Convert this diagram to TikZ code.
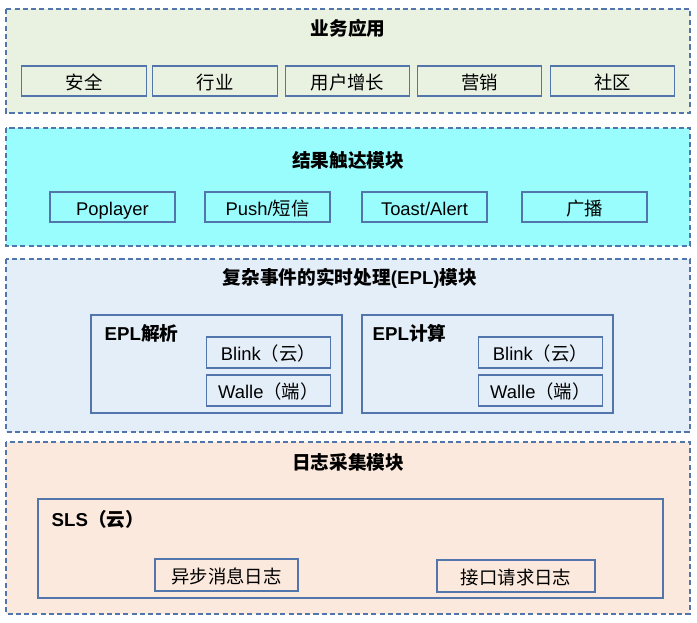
\documentclass[tikz,border=0pt]{standalone}
\usepackage{fontspec}
\setmainfont{Liberation Sans}
\newfontfamily\cjk{Noto Sans CJK SC}
\newcommand{\zh}[1]{{\cjk #1}}

\definecolor{edgeblue}{HTML}{5276AC}
\definecolor{appgreen}{HTML}{E9F1E1}
\definecolor{reachcyan}{HTML}{99FDFE}
\definecolor{eplblue}{HTML}{E4EEF8}
\definecolor{logpeach}{HTML}{FCE9DD}

\begin{document}
\begin{tikzpicture}[x=0.75pt, y=-0.75pt,
  layer/.style={draw=edgeblue, dash pattern=on 3.8pt off 2.4pt, line width=0.9pt},
  box/.style={draw=edgeblue, line width=0.9pt, minimum height=22.5pt, inner sep=0pt,
    text height=13pt, text depth=1pt, font=\fontsize{13.8}{16}\selectfont},
  title/.style={font=\fontsize{14}{16}\selectfont\bfseries}]
  \useasboundingbox (0,0) rectangle (697,622);

  % Layers
  \draw[layer, fill=appgreen] (6,9) rectangle (690,113);
  \draw[layer, fill=reachcyan] (6,128) rectangle (690,246);
  \draw[layer, fill=eplblue] (6,259) rectangle (690,432);
  \draw[layer, fill=logpeach] (6,442) rectangle (690,614);

  % Business apps
  \node[title] (apps) at (348,28) {\zh{业务应用}};
  \foreach \cx/\txt [count=\i] in {84/安全, 215/行业, 347.5/用户增长, 479.5/营销, 612.5/社区}
    \node[box, minimum width=93.5pt] (app\i) at (\cx,81) {\zh{\txt}};

  % Reach module
  \node[title] (reach) at (348,160) {\zh{结果触达模块}};
  \node[box, minimum width=93.75pt] (pop) at (112.5,207) {Poplayer};
  \node[box, minimum width=93.75pt] (push) at (267.5,207) {Push/\zh{短信}};
  \node[box, minimum width=93.75pt] (toast) at (424.5,207) {Toast/Alert};
  \node[box, minimum width=93.75pt] (bcast) at (584.5,207) {\zh{广播}};

  % EPL module
  \node[title] (epl) at (350,278) {\zh{复杂事件的实时处理}(EPL)\zh{模块}};
  \draw[edgeblue, line width=0.9pt] (91,315) rectangle (342,413);
  \draw[edgeblue, line width=0.9pt] (362,315) rectangle (613,413);
  \node[title, anchor=west] (parse) at (100,333) {EPL\zh{解析}};
  \node[title, anchor=west] (calc) at (368,333) {EPL\zh{计算}};
  \foreach \cx/\nm in {268.5/parse, 540.5/calc} {
    \node[box, minimum width=93.5pt, minimum height=23.25pt] (\nm blink) at (\cx,352.5) {Blink\zh{（云）}};
    \node[box, minimum width=93.5pt, minimum height=23.25pt] (\nm walle) at (\cx,390.5) {Walle\zh{（端）}};
  }

  % Log collection
  \node[title] (logs) at (348,462) {\zh{日志采集模块}};
  \draw[edgeblue, line width=0.9pt] (38,499) rectangle (663,598);
  \node[title, anchor=west] (sls) at (47,519) {SLS\zh{（云）}};
  \node[box, minimum width=107.25pt, minimum height=24pt] (async) at (226.5,575) {\zh{异步消息日志}};
  \node[box, minimum width=118.5pt, minimum height=24pt] (api) at (516,576) {\zh{接口请求日志}};
\end{tikzpicture}
\end{document}
